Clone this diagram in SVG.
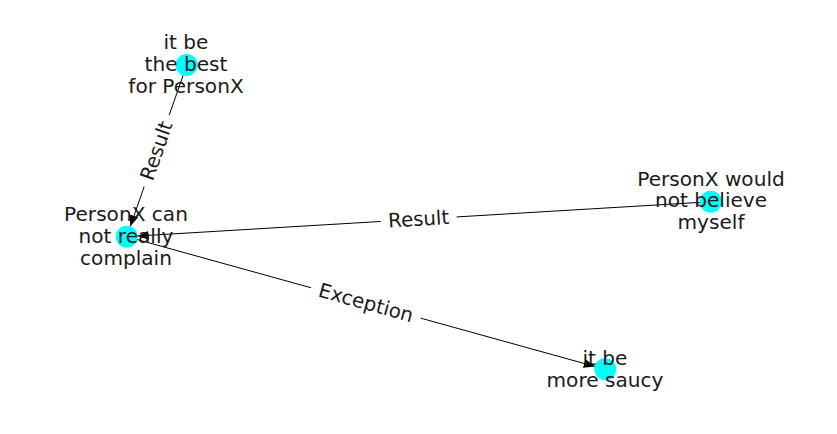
<svg xmlns="http://www.w3.org/2000/svg" width="837" height="434" viewBox="0 0 837 434">
<defs>
<style>
.edge{stroke:#000;stroke-width:1;fill:none}
.node{fill:#00ffff}
.lbl{font-family:"DejaVu Sans",sans-serif;font-size:20.1px;fill:#1a1a1a;text-anchor:middle}
.elbl{font-family:"DejaVu Sans",sans-serif;font-size:19.8px;fill:#1a1a1a;text-anchor:middle;dominant-baseline:central}
.box{fill:#fff;stroke:none}
</style>
<marker id="arr" markerUnits="userSpaceOnUse" markerWidth="12" markerHeight="9" refX="11" refY="4.5" orient="auto">
<path d="M0,0 L11,4.5 L0,9 z" fill="#000"/>
</marker>
</defs>
<rect width="837" height="434" fill="#fff"/>
<g id="nodes-circles">
<g id="n-best"><circle class="node" cx="186.7" cy="65" r="11"/></g>
<g id="n-complain"><circle class="node" cx="126.7" cy="236.7" r="11"/></g>
<g id="n-believe"><circle class="node" cx="710.7" cy="201.7" r="11"/></g>
<g id="n-saucy"><circle class="node" cx="605.3" cy="369.3" r="11"/></g>
</g>
<g id="connectors">
<line class="edge" x1="183.1" y1="75.4" x2="130.3" y2="226.3" marker-end="url(#arr)"/>
<line class="edge" x1="699.7" y1="202.4" x2="137.7" y2="236.0" marker-end="url(#arr)"/>
<line class="edge" x1="137.3" y1="239.6" x2="594.7" y2="366.4" marker-end="url(#arr)"/>
<g transform="translate(156.7,150.8) rotate(-70.7)"><rect class="box" x="-38" y="-13" width="76" height="26"/><text class="elbl" x="0" y="0">Result</text></g>
<g transform="translate(418.7,219.2) rotate(-3.43)"><rect class="box" x="-38" y="-13" width="76" height="26"/><text class="elbl" x="0" y="0">Result</text></g>
<g transform="translate(366,303) rotate(15.49)"><rect class="box" x="-57" y="-13" width="114" height="26"/><text class="elbl" x="0" y="0">Exception</text></g>
</g>
<g id="node-labels">
<g id="t-best"><text class="lbl" x="186" y="49">it be</text><text class="lbl" x="186" y="71">the best</text><text class="lbl" x="186" y="93">for PersonX</text></g>
<g id="t-complain"><text class="lbl" x="126" y="221">PersonX can</text><text class="lbl" x="126" y="243">not really</text><text class="lbl" x="126" y="264.5">complain</text></g>
<g id="t-believe"><text class="lbl" x="711" y="185.5">PersonX would</text><text class="lbl" x="711" y="207">not believe</text><text class="lbl" x="711" y="228.5">myself</text></g>
<g id="t-saucy"><text class="lbl" x="605" y="364.5">it be</text><text class="lbl" x="605" y="386.5">more saucy</text></g>
</g>
</svg>
